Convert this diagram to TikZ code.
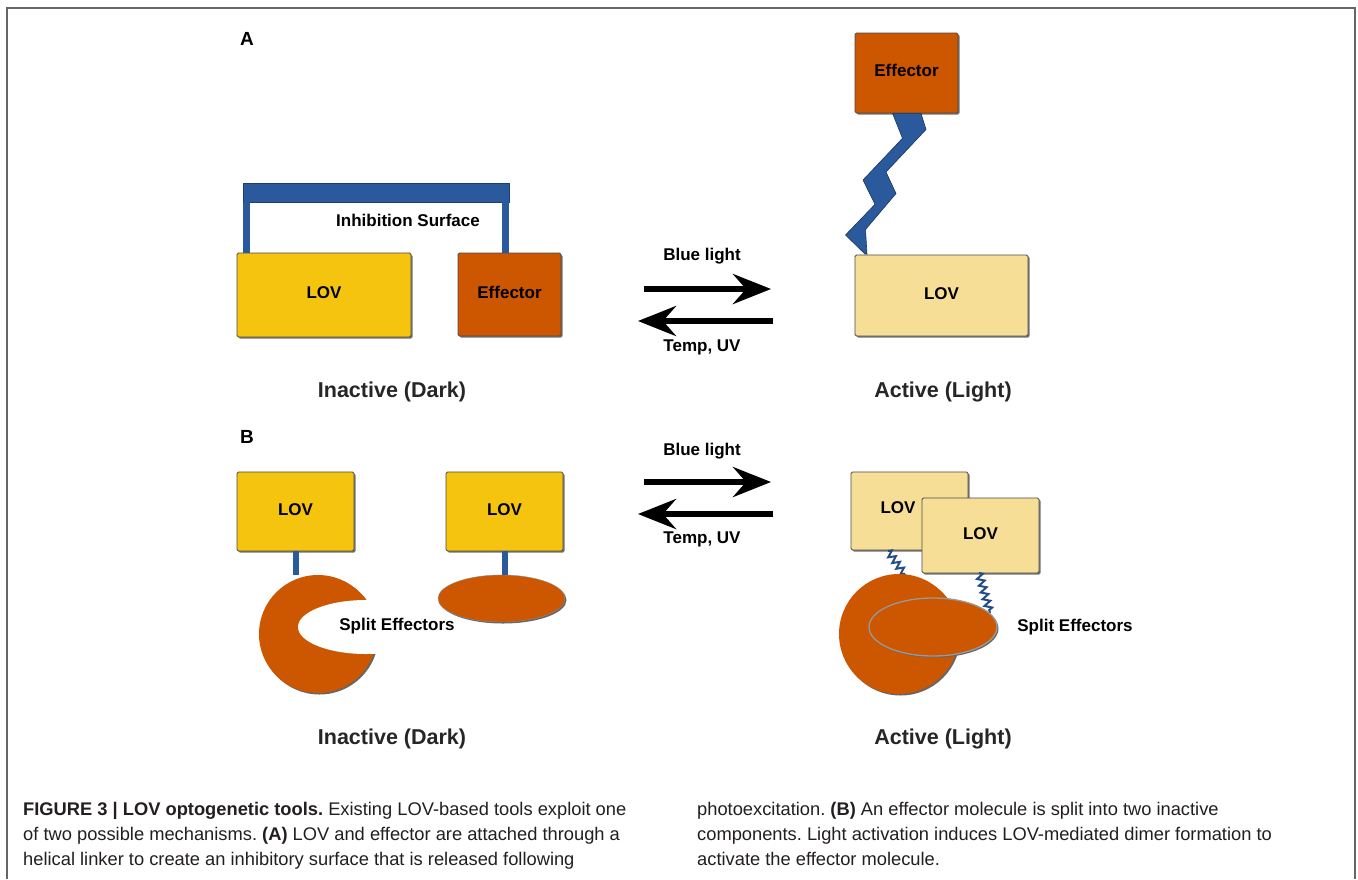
\documentclass[tikz,border=0pt]{standalone}
\usepackage{fontspec}
\setmainfont{Liberation Sans}
\usetikzlibrary{arrows.meta,shapes.geometric,shadows,decorations.pathmorphing}
\definecolor{lovY}{HTML}{F5C40F}
\definecolor{lovL}{HTML}{F6DE97}
\definecolor{effO}{HTML}{CD5600}
\definecolor{linkB}{HTML}{2A5A9C}
\definecolor{edgeC}{HTML}{4A4A4A}
\definecolor{capC}{HTML}{231F20}
\tikzset{
  box/.style={draw=edgeC, line width=0.9pt, rounded corners=1.5pt, inner sep=0pt,
    drop shadow={shadow xshift=1.5pt, shadow yshift=-1.5pt, fill=black!55, opacity=1},
    font=\fontsize{17}{20}\selectfont\bfseries, text height=0.72em, text depth=0pt},
  lovbox/.style={box, fill=lovY},
  lovlight/.style={box, fill=lovL},
  effbox/.style={box, fill=effO},
  lbl/.style={font=\fontsize{17}{20}\selectfont\bfseries, inner sep=0pt, text height=0.72em, text depth=0pt},
  statelbl/.style={font=\fontsize{21.5}{24}\selectfont\bfseries, text=black!85, inner sep=0pt, text height=0.72em, text depth=0pt},
  panellbl/.style={font=\fontsize{19}{22}\selectfont\bfseries, inner sep=0pt, text height=0.72em, text depth=0pt},
  captxt/.style={font=\fontsize{18.3}{22}\selectfont\frenchspacing, anchor=base west, inner sep=0pt, text=capC},
  rxn/.style={line width=6pt, -{Stealth[length=38pt,width=30pt,inset=13pt]}},
  stick/.style={line width=6pt, linkB},
  zz/.style={line width=2pt, linkB!85!black, decorate, decoration={zigzag, segment length=7pt, amplitude=3.5pt}},
  blob/.style={fill=effO, drop shadow={shadow xshift=1.5pt, shadow yshift=-1.5pt, fill=black!60, opacity=1}},
}
\begin{document}
\begin{tikzpicture}[x=1pt,y=-1pt]
\useasboundingbox (0,0) rectangle (1358,879);
\fill[white] (0,0) rectangle (1358,879);
% frame
\draw[black!60, line width=1.3pt] (7,879) |- (1355,8) -- (1355,879);

% ---------- Panel A ----------
\node[panellbl] (labA) at (247,42) {A};
\node[draw=linkB!70!black, line width=0.6pt, fill=linkB, minimum width=266, minimum height=19, inner sep=0pt] (bar) at (376,192.5) {};
\node[lovbox, minimum width=174, minimum height=84] (lovA) at (324,295) {LOV};
\node[effbox, minimum width=103, minimum height=83] (effA) at (509.5,294.5) {Effector};
\path (bar.south west) ++(3.5,0) coordinate (legL);
\path (bar.south east) ++(-3.5,0) coordinate (legR);
\draw[stick, line width=7pt] (legL) -- (legL |- lovA.north);
\draw[stick, line width=7pt] (legR) -- (legR |- effA.north);
\node[lbl] (inhib) at (408,223) {Inhibition Surface};

\node[effbox, minimum width=103, minimum height=80] (effA2) at (906.5,73) {Effector};
\node[lovlight, minimum width=173, minimum height=81] (lovA2) at (941.5,295.5) {LOV};
\fill[linkB, draw=linkB!60!black, line width=0.6pt]
  (892.5,113.3) -- (902.5,138.3) -- (863,180) -- (875,204.3) -- (845.5,235) -- (865,254)
  -- (867,254) -- (865.5,229.5) -- (896,193.5) -- (886,172) -- (926,129.5) -- (921,113.3) -- cycle;

\node[lbl] (blA) at (702,257) {Blue light};
\node[lbl] (tuA) at (702,348) {Temp, UV};
\coordinate (a1s) at (644,289); \coordinate (a1e) at (771,289);
\coordinate (a2s) at (773,321); \coordinate (a2e) at (638,321);
\draw[rxn] (a1s) -- (a1e);
\draw[rxn] (a2s) -- (a2e);

\node[statelbl] (inA) at (392,394) {Inactive (Dark)};
\node[statelbl] (acA) at (943,394) {Active (Light)};

% ---------- Panel B ----------
\node[panellbl] (labB) at (247,440) {B};
\node[lovbox, minimum width=117, minimum height=79] (lovB1) at (295.5,511.5) {LOV};
\node[lovbox, minimum width=117, minimum height=79] (lovB2) at (504.5,511.5) {LOV};
\node[circle, blob, minimum size=118, inner sep=0pt] (cres) at (318,634) {};
\fill[white] (366,627) ellipse [x radius=68, y radius=27];
\node[ellipse, blob, draw=black!45, line width=0.4pt, minimum width=127, minimum height=47, inner sep=0pt] (ovB) at (501.5,598.5) {};
\draw[stick] (lovB1.south) -- (lovB1.south |- cres.north);
\draw[stick] (lovB2.south) -- (lovB2.south |- ovB.north);
\node[lbl] (splitL) at (397,627) {Split Effectors};

\node[lovlight, minimum width=117, minimum height=78] (lovB3) at (909.5,511) {};
\node[lbl] (lovB3t) at (898,510) {LOV};
\node[lovlight, minimum width=117, minimum height=75] (lovB4) at (980.5,535.5) {LOV};
\coordinate (z1s) at (888,551); \coordinate (z1e) at (905,575);
\coordinate (z2s) at (979,573); \coordinate (z2e) at (990,613);
\draw[zz] (z1s) -- (z1e);
\draw[zz] (z2s) -- (z2e);
\node[circle, blob, minimum size=120, inner sep=0pt] (cirR) at (899,634) {};
\node[ellipse, blob, draw=black!40, line width=1.3pt, minimum width=128, minimum height=58, inner sep=0pt] (ovR) at (933,627) {};
\node[lbl] (splitR) at (1075,628) {Split Effectors};

\node[lbl] (blB) at (702,452) {Blue light};
\node[lbl] (tuB) at (702,540) {Temp, UV};
\coordinate (b1s) at (644,482); \coordinate (b1e) at (771,482);
\coordinate (b2s) at (773,514); \coordinate (b2e) at (638,514);
\draw[rxn] (b1s) -- (b1e);
\draw[rxn] (b2s) -- (b2e);

\node[statelbl] (inB) at (392,741) {Inactive (Dark)};
\node[statelbl] (acB) at (943,741) {Active (Light)};

% ---------- Caption ----------
\node[captxt] (c1) at (23,815) {\textbf{FIGURE 3 | LOV optogenetic tools.} Existing LOV-based tools exploit one};
\node[captxt] (c2) at (23,840) {of two possible mechanisms. \textbf{(A)} LOV and effector are attached through a};
\node[captxt] (c3) at (23,865) {helical linker to create an inhibitory surface that is released following};
\node[captxt] (c4) at (697,815) {photoexcitation. \textbf{(B)} An effector molecule is split into two inactive};
\node[captxt] (c5) at (697,840) {components. Light activation induces LOV-mediated dimer formation to};
\node[captxt] (c6) at (697,865) {activate the effector molecule.};
\end{tikzpicture}
\end{document}
